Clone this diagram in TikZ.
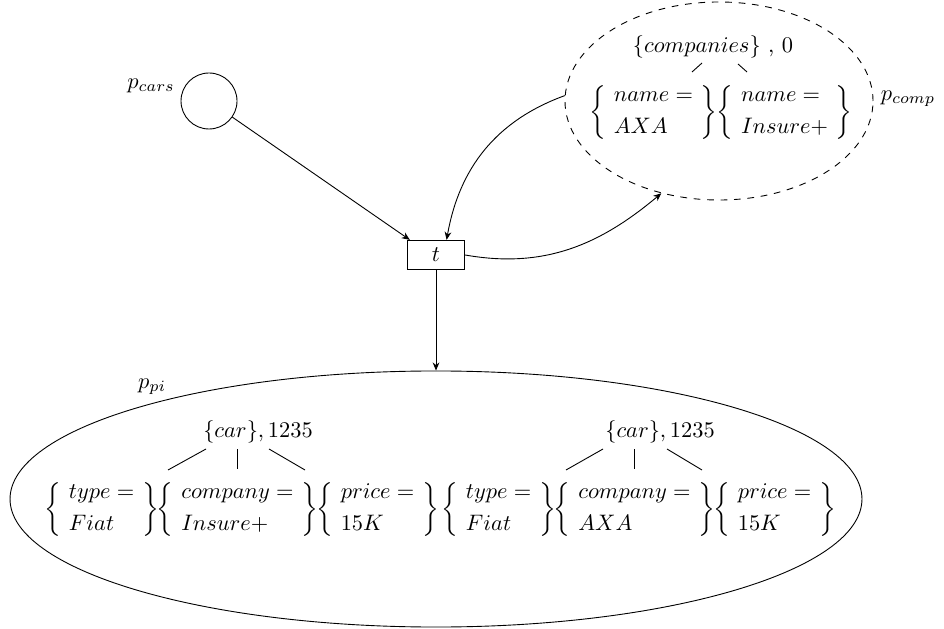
\documentclass[tikz,border=0pt]{standalone}
\usetikzlibrary{shapes.geometric,arrows.meta,calc}

% a token: a record of two lines between braces
\newcommand{\rec}[2]{{\setlength{\arraycolsep}{3.5pt}$\left\{\begin{array}{l} #1 \\[2pt] #2 \end{array}\right\}$}}

\tikzset{
  place/.style={circle, draw, minimum size=25pt, inner sep=0pt},
  trans/.style={rectangle, draw, semithick, minimum width=25.4pt, minimum height=12.9pt, inner sep=0pt},
  bigplace/.style={ellipse, draw, inner sep=0pt},
  token/.style={inner sep=0pt},
  arc/.style={-{Stealth[length=3.6pt,width=3pt]}},
}

\begin{document}
\begin{tikzpicture}[x=0.4464pt, y=-0.4464pt]
  \useasboundingbox (0,0) rectangle (944,629);

  % places and transition
  \node[place] (pcars) at (209,101) {};
  \node (lcars) at (151,86) {$p_{cars}$};

  \node[trans] (t) at (436,255) {$t$};

  \node[bigplace, dashed, minimum width=137.5pt, minimum height=88.4pt] (pcomp) at (719,101) {};
  \node (lcomp) at (908,99) {$p_{comp}$};

  \node[bigplace, minimum width=380.3pt, minimum height=114.3pt] (ppi) at (436,499) {};
  \node (lpi) at (152,387) {$p_{pi}$};

  % token in p_comp
  \node (rc) at (713,47) {$\{companies\}$ , $0$};
  \coordinate (ac) at (719.5,47);
  \node[token, anchor=east] (ca) at (718,112) {\rec{name =}{AXA}};
  \node[token, anchor=west] (cb) at ($(ca.east)+(-2,0)$) {\rec{name =}{Insure+}};
  \draw ($(ac)+(-17.5,16)$) -- ($(ac)+(-27.5,25)$);
  \draw ($(ac)+(18.5,17)$) -- ($(ac)+(27.5,25)$);

  % first token in p_pi
  \node (r1) at (258,432) {$\{car\}, 1235$};
  \coordinate (a1) at (237.5,432);
  \node[token] (g12) at (237.5,509) {\rec{company =}{Insure+}};
  \node[token, anchor=east] (g11) at ($(g12.west)+(3,0)$) {\rec{type =}{Fiat}};
  \node[token, anchor=west] (g13) at ($(g12.east)+(-3,0)$) {\rec{price =}{15K}};
  \draw ($(a1)+(-31.5,17)$) -- ($(a1)+(-69.5,38)$);
  \draw ($(a1)+(0,17)$) -- ($(a1)+(0,37)$);
  \draw ($(a1)+(31.5,17)$) -- ($(a1)+(67.5,38)$);

  % second token in p_pi
  \node (r2) at (660,432) {$\{car\}, 1235$};
  \coordinate (a2) at (634.5,432);
  \node[token] (g22) at (634.5,509) {\rec{company =}{AXA}};
  \node[token, anchor=east] (g21) at ($(g22.west)+(3,0)$) {\rec{type =}{Fiat}};
  \node[token, anchor=west] (g23) at ($(g22.east)+(-3,0)$) {\rec{price =}{15K}};
  \draw ($(a2)+(-31.5,17)$) -- ($(a2)+(-68.5,38)$);
  \draw ($(a2)+(0,17)$) -- ($(a2)+(0,37)$);
  \draw ($(a2)+(32.5,17)$) -- ($(a2)+(67.5,38)$);

  % arcs
  \draw[arc] (pcars) -- (t.150);
  \draw[arc] (pcomp.178) to[out=200, in=80] (t.55);
  \draw[arc] (t.east) to[out=-10, in=220] (pcomp.238);
  \draw[arc] (t.south) -- (ppi.north);
\end{tikzpicture}
\end{document}
